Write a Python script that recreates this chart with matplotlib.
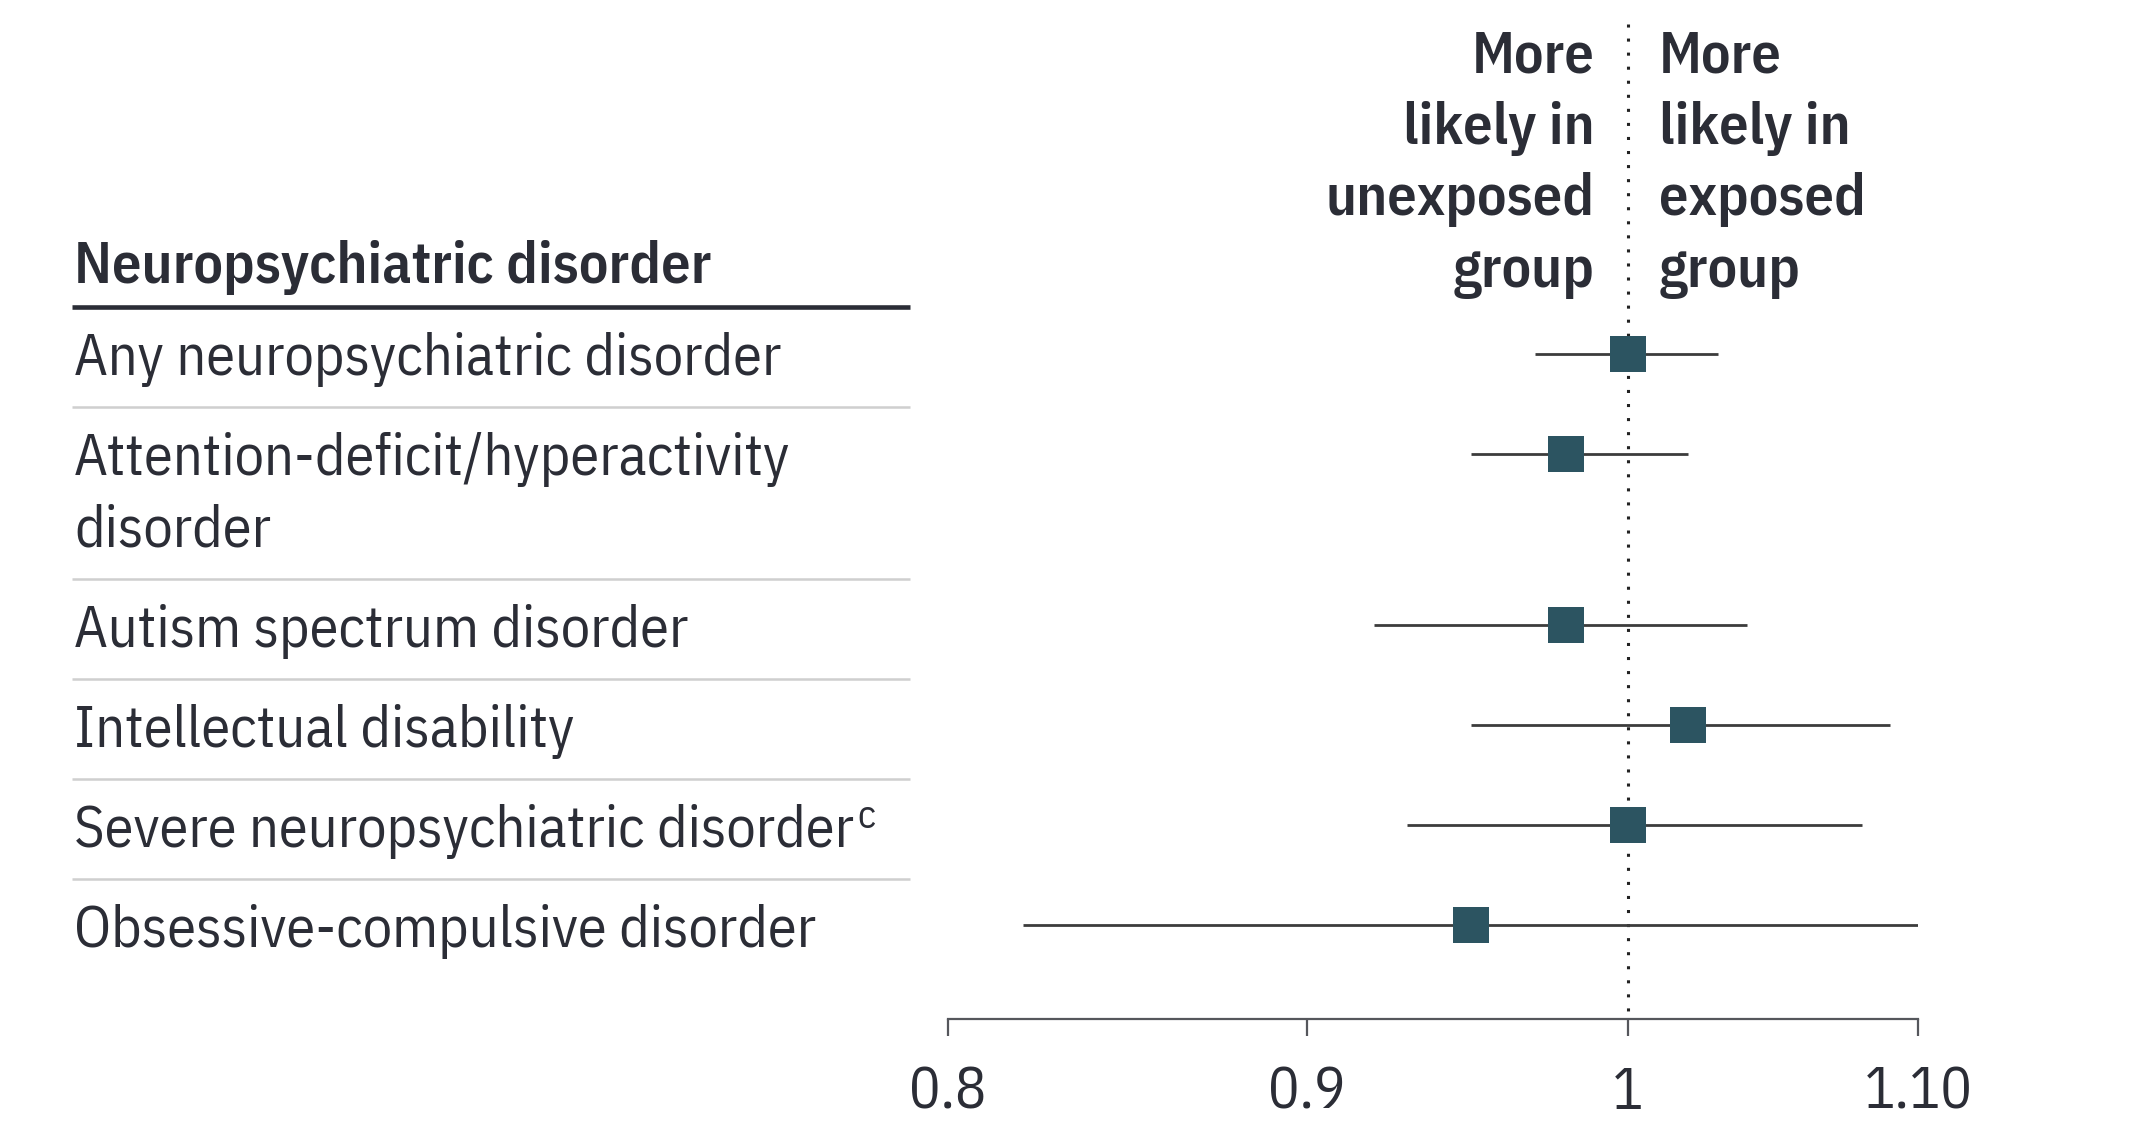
import matplotlib
matplotlib.use("Agg")
import matplotlib.pyplot as plt
import numpy as np

# ---------------- data ----------------
labels = ["Any neuropsychiatric disorder",
          "Attention-deficit/hyperactivity\ndisorder",
          "Autism spectrum disorder",
          "Intellectual disability",
          "Severe neuropsychiatric disorder",
          "Obsessive-compulsive disorder"]
superscripts = ["", "", "", "", "c", ""]
estimate = [1.00, 0.98, 0.98, 1.02, 1.00, 0.95]
ci_low = [0.97, 0.95, 0.92, 0.95, 0.93, 0.82]
ci_high = [1.03, 1.02, 1.04, 1.09, 1.08, 1.10]
xticks = [0.8, 0.9, 1.0, 1.1]
xtick_labels = ["0.8", "0.9", "1", "1.10"]
header = "Neuropsychiatric disorder"
left_note = ["More", "likely in", "unexposed", "group"]
right_note = ["More", "likely in", "exposed", "group"]

# ---------------- style ----------------
FAM = ["IBM Plex Sans Condensed", "DejaVu Sans"]
plt.rcParams["font.family"] = FAM
FS = 42
BOLD = 600
TXT = "#2b2d36"
SQ = "#2c5461"
LINE = "#3c3c3c"
SEP = "#cfcfcf"

W, H = 2135, 1122
fig = plt.figure(figsize=(W / 100, H / 100), dpi=100)

# overlay in pixel coordinates (y downward)
ov = fig.add_axes([0, 0, 1, 1])
ov.set_xlim(0, W)
ov.set_ylim(H, 0)
ov.axis("off")

# layout of the table rows
header_y = 307
single_h = 100
line_h = 71.5
nlines = [lab.count("\n") + 1 for lab in labels]
heights = [single_h + (n - 1) * line_h for n in nlines]
tops = header_y + np.concatenate([[0], np.cumsum(heights)[:-1]])
ypos = tops + 47
x_left, x_right = 72, 910
text_x = 74

# header
ov.text(text_x, 283, header, fontsize=FS, fontweight=BOLD, color=TXT,
        ha="left", va="baseline")
ov.plot([x_left, x_right], [header_y, header_y], color=TXT, lw=3.3,
        solid_capstyle="butt")
for t in tops[1:]:
    ov.plot([x_left, x_right], [t, t], color=SEP, lw=1.8, solid_capstyle="butt")

fig.canvas.draw()
renderer = fig.canvas.get_renderer()
for lab, sup, y in zip(labels, superscripts, ypos):
    last = None
    for k, part in enumerate(lab.split("\n")):
        last = ov.text(text_x, y + 21 + k * line_h, part, fontsize=FS, color=TXT,
                       ha="left", va="baseline")
    if sup:
        bb = last.get_window_extent(renderer=renderer)
        xe = ov.transData.inverted().transform((bb.x1, 0))[0]
        ov.text(xe + 3, y + 21 - 19, sup, fontsize=FS * 0.68, color=TXT,
                ha="left", va="baseline")

# annotation texts
for k, (l, r) in enumerate(zip(left_note, right_note)):
    yb = 72 + k * line_h
    ov.text(1595, yb, l, fontsize=FS, fontweight=BOLD, color=TXT,
            ha="right", va="baseline")
    ov.text(1659, yb, r, fontsize=FS, fontweight=BOLD, color=TXT,
            ha="left", va="baseline")

# forest axes
x0, x1 = 948, 1918
ybot, ytop = 1019, 24
ax = fig.add_axes([x0 / W, 1 - ybot / H, (x1 - x0) / W, (ybot - ytop) / H])
ax.patch.set_alpha(0)
ax.set_xscale("log")
ax.set_xlim(0.8, 1.1)
ax.set_ylim(ybot, ytop)
for s in ["top", "left", "right"]:
    ax.spines[s].set_visible(False)
ax.spines["bottom"].set_color("#55575c")
ax.spines["bottom"].set_linewidth(1.6)
ax.set_yticks([])
ax.set_xticks(xticks)
ax.set_xticklabels(xtick_labels)
ax.xaxis.set_minor_locator(matplotlib.ticker.NullLocator())
ax.tick_params(axis="x", direction="out", length=12.5, width=1.6,
               color="#55575c", labelsize=FS, labelcolor=TXT, pad=21)

ax.plot([1, 1], [ytop, ybot], color="#222222", lw=2.2,
        linestyle=(0, (1, 3.6)), zorder=1)
ax.hlines(ypos, ci_low, ci_high, color=LINE, lw=2.0, zorder=2)
ax.plot(estimate, ypos, linestyle="none", marker="s", markersize=26,
        color=SQ, markeredgewidth=0, zorder=3)

fig.savefig("out.png", dpi=100)
